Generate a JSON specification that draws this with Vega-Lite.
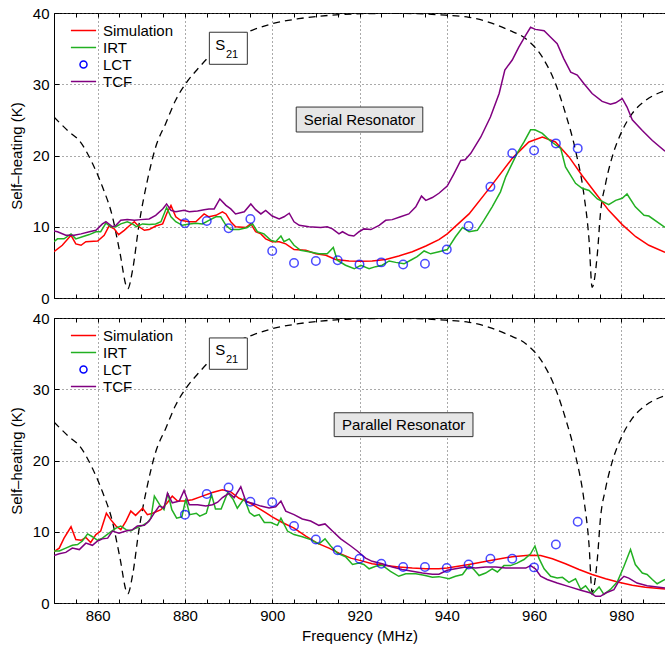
{
  "$schema": "https://vega.github.io/schema/vega-lite/v6.json",
  "padding": {"left": 8, "top": 5, "right": 0, "bottom": 0},
  "config": {
    "font": "Liberation Sans",
    "view": {"stroke": "black", "strokeWidth": 1},
    "axis": {"labelFont": "Liberation Sans", "titleFont": "Liberation Sans", "labelColor": "black", "titleColor": "black", "labelFontSize": 15, "titleFontSize": 15, "titleFontWeight": "normal", "tickColor": "black", "gridColor": "#555555", "gridDash": [1, 3], "gridOpacity": 1, "gridWidth": 1}
  },
  "datasets": {
    "one": [{}],
    "s21": [
      {"f":850,"v":25.4},{"f":853.5,"v":23.3},{"f":855.8,"v":22.1},{"f":858.8,"v":18.9},{"f":861.1,"v":15.6},{"f":863.4,"v":11.4},{"f":865,"v":6.7},{"f":866.9,"v":1.3},{"f":868,"v":3.9},{"f":869.5,"v":10.4},{"f":871.4,"v":16.5},{"f":873.3,"v":21.2},{"f":875.6,"v":24.5},{"f":877.9,"v":27.8},{"f":880.2,"v":30.1},{"f":883.3,"v":32.4},{"f":887.8,"v":35.2},{"f":895.5,"v":37.6},{"f":900,"v":38.5},{"f":906.1,"v":39.2},{"f":913.8,"v":39.7},{"f":920.7,"v":39.9},{"f":928.3,"v":39.95},{"f":939.7,"v":39.7},{"f":945.1,"v":39.4},{"f":949.7,"v":38.7},{"f":954.2,"v":37.6},{"f":958.1,"v":36.4},{"f":961.9,"v":33.8},{"f":964.9,"v":30.1},{"f":967.2,"v":25.9},{"f":969.5,"v":20.7},{"f":971.4,"v":14.6},{"f":972.6,"v":8.1},{"f":973.3,"v":1.5},{"f":974.5,"v":6.2},{"f":975.2,"v":11.8},{"f":976.4,"v":16.1},{"f":977.9,"v":19.8},{"f":980.2,"v":23.5},{"f":982.5,"v":25.9},{"f":985.5,"v":27.7},{"f":990,"v":29.1}
    ],
    "lct": [
      {"p":"S","s":"LCT","f":880,"v":10.5},{"p":"S","s":"LCT","f":885,"v":10.8},{"p":"S","s":"LCT","f":890,"v":9.8},{"p":"S","s":"LCT","f":895,"v":11.1},{"p":"S","s":"LCT","f":900,"v":6.6},{"p":"S","s":"LCT","f":905,"v":4.9},{"p":"S","s":"LCT","f":910,"v":5.2},{"p":"S","s":"LCT","f":915,"v":5.3},{"p":"S","s":"LCT","f":920,"v":4.7},{"p":"S","s":"LCT","f":925,"v":5.0},{"p":"S","s":"LCT","f":930,"v":4.7},{"p":"S","s":"LCT","f":935,"v":4.8},{"p":"S","s":"LCT","f":940,"v":6.8},{"p":"S","s":"LCT","f":945,"v":10.1},{"p":"S","s":"LCT","f":950,"v":15.6},{"p":"S","s":"LCT","f":955,"v":20.3},{"p":"S","s":"LCT","f":960,"v":20.7},{"p":"S","s":"LCT","f":965,"v":21.7},{"p":"S","s":"LCT","f":970,"v":21.0},
      {"p":"P","s":"LCT","f":880,"v":12.4},{"p":"P","s":"LCT","f":885,"v":15.3},{"p":"P","s":"LCT","f":890,"v":16.2},{"p":"P","s":"LCT","f":895,"v":14.2},{"p":"P","s":"LCT","f":900,"v":14.15},{"p":"P","s":"LCT","f":905,"v":10.8},{"p":"P","s":"LCT","f":910,"v":8.9},{"p":"P","s":"LCT","f":915,"v":7.4},{"p":"P","s":"LCT","f":920,"v":6.2},{"p":"P","s":"LCT","f":925,"v":5.5},{"p":"P","s":"LCT","f":930,"v":5.06},{"p":"P","s":"LCT","f":935,"v":5.06},{"p":"P","s":"LCT","f":940,"v":4.9},{"p":"P","s":"LCT","f":945,"v":5.4},{"p":"P","s":"LCT","f":950,"v":6.2},{"p":"P","s":"LCT","f":955,"v":6.2},{"p":"P","s":"LCT","f":960,"v":5.0},{"p":"P","s":"LCT","f":965,"v":8.2},{"p":"P","s":"LCT","f":970,"v":11.4}
    ],
    "curves": [
      {"p":"S","s":"Simulation","f":850,"v":6.5},{"p":"S","s":"Simulation","f":851.9,"v":7.4},{"p":"S","s":"Simulation","f":853.9,"v":8.8},{"p":"S","s":"Simulation","f":855,"v":7.6},{"p":"S","s":"Simulation","f":856.2,"v":7.4},{"p":"S","s":"Simulation","f":857.3,"v":7.9},{"p":"S","s":"Simulation","f":860,"v":8.0},{"p":"S","s":"Simulation","f":861.5,"v":8.8},{"p":"S","s":"Simulation","f":862.6,"v":10.1},{"p":"S","s":"Simulation","f":863.8,"v":9.7},{"p":"S","s":"Simulation","f":864.8,"v":8.9},{"p":"S","s":"Simulation","f":866.1,"v":9.5},{"p":"S","s":"Simulation","f":867.2,"v":10.1},{"p":"S","s":"Simulation","f":868.4,"v":10.7},{"p":"S","s":"Simulation","f":869.5,"v":10.0},{"p":"S","s":"Simulation","f":870.7,"v":9.5},{"p":"S","s":"Simulation","f":871.8,"v":9.6},{"p":"S","s":"Simulation","f":873.3,"v":10.1},{"p":"S","s":"Simulation","f":874.9,"v":10.4},{"p":"S","s":"Simulation","f":876,"v":12.1},{"p":"S","s":"Simulation","f":876.8,"v":13.0},{"p":"S","s":"Simulation","f":877.9,"v":11.4},{"p":"S","s":"Simulation","f":879,"v":10.9},{"p":"S","s":"Simulation","f":881,"v":10.7},{"p":"S","s":"Simulation","f":882.5,"v":10.7},{"p":"S","s":"Simulation","f":884.4,"v":11.8},{"p":"S","s":"Simulation","f":885.5,"v":11.4},{"p":"S","s":"Simulation","f":887.1,"v":11.6},{"p":"S","s":"Simulation","f":888.6,"v":12.1},{"p":"S","s":"Simulation","f":889.4,"v":11.8},{"p":"S","s":"Simulation","f":890.5,"v":10.7},{"p":"S","s":"Simulation","f":891.6,"v":10.0},{"p":"S","s":"Simulation","f":894,"v":9.9},{"p":"S","s":"Simulation","f":895.1,"v":10.4},{"p":"S","s":"Simulation","f":896.2,"v":9.3},{"p":"S","s":"Simulation","f":897.4,"v":9.0},{"p":"S","s":"Simulation","f":898.5,"v":8.3},{"p":"S","s":"Simulation","f":900,"v":7.9},{"p":"S","s":"Simulation","f":901.6,"v":7.9},{"p":"S","s":"Simulation","f":903.1,"v":7.6},{"p":"S","s":"Simulation","f":905,"v":6.8},{"p":"S","s":"Simulation","f":907.7,"v":6.7},{"p":"S","s":"Simulation","f":910,"v":6.2},{"p":"S","s":"Simulation","f":912.3,"v":6.0},{"p":"S","s":"Simulation","f":914.5,"v":5.4},{"p":"S","s":"Simulation","f":917.6,"v":5.2},{"p":"S","s":"Simulation","f":920.3,"v":5.15},{"p":"S","s":"Simulation","f":922.9,"v":5.2},{"p":"S","s":"Simulation","f":926,"v":5.4},{"p":"S","s":"Simulation","f":929,"v":5.9},{"p":"S","s":"Simulation","f":932.1,"v":6.5},{"p":"S","s":"Simulation","f":935.2,"v":7.3},{"p":"S","s":"Simulation","f":938.2,"v":8.2},{"p":"S","s":"Simulation","f":940.1,"v":9.0},{"p":"S","s":"Simulation","f":945.1,"v":11.8},{"p":"S","s":"Simulation","f":950,"v":15.6},{"p":"S","s":"Simulation","f":955,"v":19.6},{"p":"S","s":"Simulation","f":958.8,"v":21.9},{"p":"S","s":"Simulation","f":961.9,"v":22.6},{"p":"S","s":"Simulation","f":964.9,"v":21.9},{"p":"S","s":"Simulation","f":968,"v":19.8},{"p":"S","s":"Simulation","f":971,"v":17.2},{"p":"S","s":"Simulation","f":974.1,"v":14.7},{"p":"S","s":"Simulation","f":977.1,"v":12.3},{"p":"S","s":"Simulation","f":980.2,"v":10.3},{"p":"S","s":"Simulation","f":983.3,"v":8.6},{"p":"S","s":"Simulation","f":986.3,"v":7.4},{"p":"S","s":"Simulation","f":990,"v":6.4},
      {"p":"S","s":"IRT","f":850,"v":7.9},{"p":"S","s":"IRT","f":850.8,"v":8.3},{"p":"S","s":"IRT","f":852.3,"v":8.3},{"p":"S","s":"IRT","f":853.9,"v":9.0},{"p":"S","s":"IRT","f":855,"v":8.3},{"p":"S","s":"IRT","f":856.5,"v":8.6},{"p":"S","s":"IRT","f":858.1,"v":8.9},{"p":"S","s":"IRT","f":859.6,"v":9.3},{"p":"S","s":"IRT","f":860.7,"v":9.3},{"p":"S","s":"IRT","f":861.9,"v":10.5},{"p":"S","s":"IRT","f":863,"v":10.0},{"p":"S","s":"IRT","f":864.2,"v":10.0},{"p":"S","s":"IRT","f":865.3,"v":10.4},{"p":"S","s":"IRT","f":866.8,"v":10.7},{"p":"S","s":"IRT","f":868,"v":10.4},{"p":"S","s":"IRT","f":868.9,"v":10.0},{"p":"S","s":"IRT","f":870.3,"v":10.4},{"p":"S","s":"IRT","f":871.8,"v":10.3},{"p":"S","s":"IRT","f":873.3,"v":10.4},{"p":"S","s":"IRT","f":874.5,"v":10.7},{"p":"S","s":"IRT","f":875.8,"v":12.7},{"p":"S","s":"IRT","f":876.8,"v":11.4},{"p":"S","s":"IRT","f":877.9,"v":10.7},{"p":"S","s":"IRT","f":879.4,"v":10.2},{"p":"S","s":"IRT","f":881,"v":10.4},{"p":"S","s":"IRT","f":882.5,"v":10.5},{"p":"S","s":"IRT","f":884,"v":10.4},{"p":"S","s":"IRT","f":885.5,"v":10.9},{"p":"S","s":"IRT","f":887.1,"v":11.4},{"p":"S","s":"IRT","f":888.2,"v":11.4},{"p":"S","s":"IRT","f":889.4,"v":10.2},{"p":"S","s":"IRT","f":890.5,"v":9.6},{"p":"S","s":"IRT","f":892.4,"v":9.6},{"p":"S","s":"IRT","f":894.3,"v":9.9},{"p":"S","s":"IRT","f":895.5,"v":10.4},{"p":"S","s":"IRT","f":896.6,"v":9.3},{"p":"S","s":"IRT","f":898.1,"v":9.0},{"p":"S","s":"IRT","f":899.7,"v":8.1},{"p":"S","s":"IRT","f":900.8,"v":7.9},{"p":"S","s":"IRT","f":902,"v":8.7},{"p":"S","s":"IRT","f":902.7,"v":7.9},{"p":"S","s":"IRT","f":903.9,"v":8.3},{"p":"S","s":"IRT","f":905,"v":7.4},{"p":"S","s":"IRT","f":906.5,"v":6.7},{"p":"S","s":"IRT","f":908.4,"v":6.5},{"p":"S","s":"IRT","f":910.7,"v":6.2},{"p":"S","s":"IRT","f":912.6,"v":6.2},{"p":"S","s":"IRT","f":914,"v":7.1},{"p":"S","s":"IRT","f":914.9,"v":5.3},{"p":"S","s":"IRT","f":916.8,"v":4.6},{"p":"S","s":"IRT","f":918.8,"v":4.1},{"p":"S","s":"IRT","f":920.3,"v":4.6},{"p":"S","s":"IRT","f":922.2,"v":4.1},{"p":"S","s":"IRT","f":923.7,"v":4.4},{"p":"S","s":"IRT","f":925.2,"v":4.6},{"p":"S","s":"IRT","f":926.8,"v":5.2},{"p":"S","s":"IRT","f":928.3,"v":5.0},{"p":"S","s":"IRT","f":930.2,"v":4.8},{"p":"S","s":"IRT","f":931.7,"v":5.3},{"p":"S","s":"IRT","f":933.2,"v":5.8},{"p":"S","s":"IRT","f":934.8,"v":6.6},{"p":"S","s":"IRT","f":936.3,"v":6.2},{"p":"S","s":"IRT","f":938.2,"v":6.5},{"p":"S","s":"IRT","f":940.1,"v":6.8},{"p":"S","s":"IRT","f":942,"v":8.6},{"p":"S","s":"IRT","f":943.6,"v":9.9},{"p":"S","s":"IRT","f":945.1,"v":9.3},{"p":"S","s":"IRT","f":947,"v":9.5},{"p":"S","s":"IRT","f":948.5,"v":10.9},{"p":"S","s":"IRT","f":950.4,"v":12.8},{"p":"S","s":"IRT","f":952.3,"v":14.9},{"p":"S","s":"IRT","f":953.5,"v":17.0},{"p":"S","s":"IRT","f":954.6,"v":18.4},{"p":"S","s":"IRT","f":956.1,"v":20.3},{"p":"S","s":"IRT","f":957.7,"v":21.9},{"p":"S","s":"IRT","f":959.2,"v":23.6},{"p":"S","s":"IRT","f":960.2,"v":23.6},{"p":"S","s":"IRT","f":961.9,"v":23.1},{"p":"S","s":"IRT","f":963.8,"v":22.0},{"p":"S","s":"IRT","f":966.1,"v":21.0},{"p":"S","s":"IRT","f":967.2,"v":18.4},{"p":"S","s":"IRT","f":969.5,"v":16.1},{"p":"S","s":"IRT","f":971,"v":15.4},{"p":"S","s":"IRT","f":972.6,"v":15.1},{"p":"S","s":"IRT","f":974.5,"v":13.9},{"p":"S","s":"IRT","f":977.1,"v":13.1},{"p":"S","s":"IRT","f":978.7,"v":13.7},{"p":"S","s":"IRT","f":980.2,"v":14.0},{"p":"S","s":"IRT","f":981.3,"v":14.6},{"p":"S","s":"IRT","f":983.2,"v":12.8},{"p":"S","s":"IRT","f":985.2,"v":11.6},{"p":"S","s":"IRT","f":986.3,"v":11.5},{"p":"S","s":"IRT","f":990,"v":9.9},
      {"p":"S","s":"TCF","f":850,"v":9.4},{"p":"S","s":"TCF","f":850.8,"v":9.3},{"p":"S","s":"TCF","f":852.7,"v":8.8},{"p":"S","s":"TCF","f":854.6,"v":8.8},{"p":"S","s":"TCF","f":856.2,"v":9.0},{"p":"S","s":"TCF","f":858.1,"v":9.3},{"p":"S","s":"TCF","f":859.6,"v":9.5},{"p":"S","s":"TCF","f":861.1,"v":10.4},{"p":"S","s":"TCF","f":861.9,"v":10.7},{"p":"S","s":"TCF","f":863.4,"v":10.0},{"p":"S","s":"TCF","f":864.2,"v":10.2},{"p":"S","s":"TCF","f":865.3,"v":10.9},{"p":"S","s":"TCF","f":866.8,"v":11.0},{"p":"S","s":"TCF","f":868.4,"v":10.9},{"p":"S","s":"TCF","f":869.9,"v":11.0},{"p":"S","s":"TCF","f":871.8,"v":11.1},{"p":"S","s":"TCF","f":873.3,"v":11.6},{"p":"S","s":"TCF","f":874.9,"v":12.5},{"p":"S","s":"TCF","f":875.8,"v":13.2},{"p":"S","s":"TCF","f":876.8,"v":12.3},{"p":"S","s":"TCF","f":877.9,"v":12.1},{"p":"S","s":"TCF","f":879.8,"v":12.3},{"p":"S","s":"TCF","f":881,"v":12.1},{"p":"S","s":"TCF","f":882.9,"v":12.2},{"p":"S","s":"TCF","f":884.4,"v":12.4},{"p":"S","s":"TCF","f":885.5,"v":12.5},{"p":"S","s":"TCF","f":886.7,"v":12.5},{"p":"S","s":"TCF","f":888,"v":13.9},{"p":"S","s":"TCF","f":889.4,"v":13.0},{"p":"S","s":"TCF","f":890.5,"v":12.5},{"p":"S","s":"TCF","f":891.6,"v":11.8},{"p":"S","s":"TCF","f":893.6,"v":12.1},{"p":"S","s":"TCF","f":895.1,"v":13.2},{"p":"S","s":"TCF","f":896.2,"v":12.4},{"p":"S","s":"TCF","f":897.4,"v":11.8},{"p":"S","s":"TCF","f":898.5,"v":12.3},{"p":"S","s":"TCF","f":900,"v":11.5},{"p":"S","s":"TCF","f":901.6,"v":11.1},{"p":"S","s":"TCF","f":902.7,"v":11.4},{"p":"S","s":"TCF","f":903.9,"v":11.9},{"p":"S","s":"TCF","f":905,"v":10.7},{"p":"S","s":"TCF","f":906.2,"v":10.2},{"p":"S","s":"TCF","f":908.4,"v":10.0},{"p":"S","s":"TCF","f":911.1,"v":9.9},{"p":"S","s":"TCF","f":912.6,"v":10.0},{"p":"S","s":"TCF","f":913.8,"v":9.7},{"p":"S","s":"TCF","f":915.3,"v":9.0},{"p":"S","s":"TCF","f":916.1,"v":9.3},{"p":"S","s":"TCF","f":917.6,"v":8.8},{"p":"S","s":"TCF","f":918.7,"v":8.7},{"p":"S","s":"TCF","f":919.9,"v":9.3},{"p":"S","s":"TCF","f":921,"v":9.7},{"p":"S","s":"TCF","f":922.6,"v":9.6},{"p":"S","s":"TCF","f":924.5,"v":10.2},{"p":"S","s":"TCF","f":926,"v":10.9},{"p":"S","s":"TCF","f":927.5,"v":11.0},{"p":"S","s":"TCF","f":929.4,"v":11.4},{"p":"S","s":"TCF","f":931.3,"v":11.8},{"p":"S","s":"TCF","f":932.9,"v":12.8},{"p":"S","s":"TCF","f":934.2,"v":14.3},{"p":"S","s":"TCF","f":935.2,"v":13.7},{"p":"S","s":"TCF","f":936.7,"v":14.1},{"p":"S","s":"TCF","f":938.2,"v":14.7},{"p":"S","s":"TCF","f":940.1,"v":15.7},{"p":"S","s":"TCF","f":941.6,"v":17.4},{"p":"S","s":"TCF","f":943.2,"v":19.3},{"p":"S","s":"TCF","f":944.2,"v":19.4},{"p":"S","s":"TCF","f":945.5,"v":20.3},{"p":"S","s":"TCF","f":947.8,"v":22.6},{"p":"S","s":"TCF","f":950,"v":25.4},{"p":"S","s":"TCF","f":952,"v":28.7},{"p":"S","s":"TCF","f":953.3,"v":32.0},{"p":"S","s":"TCF","f":955,"v":33.4},{"p":"S","s":"TCF","f":956.5,"v":35.2},{"p":"S","s":"TCF","f":958.1,"v":36.9},{"p":"S","s":"TCF","f":959.2,"v":38.0},{"p":"S","s":"TCF","f":960.3,"v":37.7},{"p":"S","s":"TCF","f":962.3,"v":37.5},{"p":"S","s":"TCF","f":963.8,"v":36.6},{"p":"S","s":"TCF","f":965.3,"v":35.7},{"p":"S","s":"TCF","f":966.8,"v":33.6},{"p":"S","s":"TCF","f":968.4,"v":31.7},{"p":"S","s":"TCF","f":969.9,"v":31.3},{"p":"S","s":"TCF","f":971.4,"v":30.1},{"p":"S","s":"TCF","f":973.3,"v":28.7},{"p":"S","s":"TCF","f":975.6,"v":27.6},{"p":"S","s":"TCF","f":977.5,"v":27.2},{"p":"S","s":"TCF","f":978.7,"v":27.4},{"p":"S","s":"TCF","f":980.2,"v":28.0},{"p":"S","s":"TCF","f":981.3,"v":26.8},{"p":"S","s":"TCF","f":982.5,"v":25.0},{"p":"S","s":"TCF","f":984.8,"v":23.5},{"p":"S","s":"TCF","f":987.1,"v":22.1},{"p":"S","s":"TCF","f":990,"v":20.6},
      {"p":"P","s":"Simulation","f":850,"v":7.2},{"p":"P","s":"Simulation","f":851.2,"v":7.7},{"p":"P","s":"Simulation","f":852.3,"v":9.1},{"p":"P","s":"Simulation","f":853.9,"v":10.7},{"p":"P","s":"Simulation","f":855,"v":8.9},{"p":"P","s":"Simulation","f":856.2,"v":8.8},{"p":"P","s":"Simulation","f":857.3,"v":9.2},{"p":"P","s":"Simulation","f":858.4,"v":8.5},{"p":"P","s":"Simulation","f":859.6,"v":9.6},{"p":"P","s":"Simulation","f":860.7,"v":10.1},{"p":"P","s":"Simulation","f":862,"v":12.6},{"p":"P","s":"Simulation","f":863,"v":11.7},{"p":"P","s":"Simulation","f":864.2,"v":10.8},{"p":"P","s":"Simulation","f":865.3,"v":10.3},{"p":"P","s":"Simulation","f":866.5,"v":11.5},{"p":"P","s":"Simulation","f":867.6,"v":12.9},{"p":"P","s":"Simulation","f":868.7,"v":12.3},{"p":"P","s":"Simulation","f":870.3,"v":13.3},{"p":"P","s":"Simulation","f":871.4,"v":12.4},{"p":"P","s":"Simulation","f":872.6,"v":12.6},{"p":"P","s":"Simulation","f":874.5,"v":13.1},{"p":"P","s":"Simulation","f":876,"v":14.1},{"p":"P","s":"Simulation","f":877.1,"v":15.0},{"p":"P","s":"Simulation","f":878.3,"v":14.3},{"p":"P","s":"Simulation","f":879.8,"v":14.3},{"p":"P","s":"Simulation","f":881.7,"v":14.5},{"p":"P","s":"Simulation","f":884,"v":15.0},{"p":"P","s":"Simulation","f":886.3,"v":15.5},{"p":"P","s":"Simulation","f":888.6,"v":15.9},{"p":"P","s":"Simulation","f":890.5,"v":15.6},{"p":"P","s":"Simulation","f":892.4,"v":14.7},{"p":"P","s":"Simulation","f":894.7,"v":14.1},{"p":"P","s":"Simulation","f":896.6,"v":13.4},{"p":"P","s":"Simulation","f":898.5,"v":12.7},{"p":"P","s":"Simulation","f":900,"v":12.1},{"p":"P","s":"Simulation","f":902.3,"v":11.3},{"p":"P","s":"Simulation","f":905,"v":10.5},{"p":"P","s":"Simulation","f":907.7,"v":9.4},{"p":"P","s":"Simulation","f":910.3,"v":8.4},{"p":"P","s":"Simulation","f":913,"v":7.7},{"p":"P","s":"Simulation","f":915.3,"v":7.0},{"p":"P","s":"Simulation","f":918,"v":6.3},{"p":"P","s":"Simulation","f":920.3,"v":5.95},{"p":"P","s":"Simulation","f":922.9,"v":5.5},{"p":"P","s":"Simulation","f":926,"v":5.25},{"p":"P","s":"Simulation","f":929,"v":5.06},{"p":"P","s":"Simulation","f":932.1,"v":4.9},{"p":"P","s":"Simulation","f":935.2,"v":4.8},{"p":"P","s":"Simulation","f":938.2,"v":4.8},{"p":"P","s":"Simulation","f":940.1,"v":4.9},{"p":"P","s":"Simulation","f":945.1,"v":5.4},{"p":"P","s":"Simulation","f":950,"v":5.95},{"p":"P","s":"Simulation","f":955,"v":6.5},{"p":"P","s":"Simulation","f":958.8,"v":6.7},{"p":"P","s":"Simulation","f":961.5,"v":6.65},{"p":"P","s":"Simulation","f":964.2,"v":6.2},{"p":"P","s":"Simulation","f":967.2,"v":5.5},{"p":"P","s":"Simulation","f":970.3,"v":4.7},{"p":"P","s":"Simulation","f":973.3,"v":4.0},{"p":"P","s":"Simulation","f":976.4,"v":3.4},{"p":"P","s":"Simulation","f":979.4,"v":2.9},{"p":"P","s":"Simulation","f":982.5,"v":2.5},{"p":"P","s":"Simulation","f":985.5,"v":2.2},{"p":"P","s":"Simulation","f":990,"v":1.95},
      {"p":"P","s":"IRT","f":850,"v":7.3},{"p":"P","s":"IRT","f":851.2,"v":7.3},{"p":"P","s":"IRT","f":852.7,"v":7.7},{"p":"P","s":"IRT","f":854.2,"v":8.1},{"p":"P","s":"IRT","f":855.4,"v":8.2},{"p":"P","s":"IRT","f":856.5,"v":8.7},{"p":"P","s":"IRT","f":857.7,"v":9.7},{"p":"P","s":"IRT","f":858.8,"v":9.3},{"p":"P","s":"IRT","f":860,"v":8.8},{"p":"P","s":"IRT","f":861.1,"v":9.1},{"p":"P","s":"IRT","f":862.6,"v":9.8},{"p":"P","s":"IRT","f":864.2,"v":10.5},{"p":"P","s":"IRT","f":865.3,"v":10.8},{"p":"P","s":"IRT","f":866.5,"v":10.3},{"p":"P","s":"IRT","f":867.6,"v":10.1},{"p":"P","s":"IRT","f":868.7,"v":10.5},{"p":"P","s":"IRT","f":870.3,"v":10.9},{"p":"P","s":"IRT","f":871.4,"v":11.3},{"p":"P","s":"IRT","f":872.2,"v":11.9},{"p":"P","s":"IRT","f":873,"v":15.0},{"p":"P","s":"IRT","f":874.2,"v":13.8},{"p":"P","s":"IRT","f":875.2,"v":13.1},{"p":"P","s":"IRT","f":876.1,"v":15.4},{"p":"P","s":"IRT","f":877,"v":13.1},{"p":"P","s":"IRT","f":878.1,"v":11.9},{"p":"P","s":"IRT","f":879.3,"v":12.1},{"p":"P","s":"IRT","f":880.2,"v":14.6},{"p":"P","s":"IRT","f":881.1,"v":12.4},{"p":"P","s":"IRT","f":882.6,"v":12.6},{"p":"P","s":"IRT","f":883.4,"v":12.2},{"p":"P","s":"IRT","f":884.9,"v":12.6},{"p":"P","s":"IRT","f":886.1,"v":15.2},{"p":"P","s":"IRT","f":887,"v":13.2},{"p":"P","s":"IRT","f":888.3,"v":13.2},{"p":"P","s":"IRT","f":889.8,"v":15.5},{"p":"P","s":"IRT","f":891,"v":14.6},{"p":"P","s":"IRT","f":892,"v":13.3},{"p":"P","s":"IRT","f":893.6,"v":14.7},{"p":"P","s":"IRT","f":894.8,"v":12.7},{"p":"P","s":"IRT","f":895.9,"v":12.2},{"p":"P","s":"IRT","f":897,"v":12.4},{"p":"P","s":"IRT","f":898.2,"v":11.3},{"p":"P","s":"IRT","f":899.7,"v":11.3},{"p":"P","s":"IRT","f":901.2,"v":10.9},{"p":"P","s":"IRT","f":902,"v":11.9},{"p":"P","s":"IRT","f":903.5,"v":10.1},{"p":"P","s":"IRT","f":905,"v":9.6},{"p":"P","s":"IRT","f":906.9,"v":9.3},{"p":"P","s":"IRT","f":908.8,"v":8.9},{"p":"P","s":"IRT","f":910.7,"v":8.3},{"p":"P","s":"IRT","f":912.1,"v":9.0},{"p":"P","s":"IRT","f":913.4,"v":8.0},{"p":"P","s":"IRT","f":914.9,"v":7.0},{"p":"P","s":"IRT","f":916.8,"v":6.5},{"p":"P","s":"IRT","f":918.4,"v":5.4},{"p":"P","s":"IRT","f":919.9,"v":5.6},{"p":"P","s":"IRT","f":921,"v":5.4},{"p":"P","s":"IRT","f":922.2,"v":4.8},{"p":"P","s":"IRT","f":923.7,"v":5.15},{"p":"P","s":"IRT","f":925.2,"v":5.3},{"p":"P","s":"IRT","f":927.1,"v":4.45},{"p":"P","s":"IRT","f":929,"v":3.75},{"p":"P","s":"IRT","f":930.6,"v":4.1},{"p":"P","s":"IRT","f":932.9,"v":4.1},{"p":"P","s":"IRT","f":934.8,"v":3.9},{"p":"P","s":"IRT","f":936.7,"v":3.6},{"p":"P","s":"IRT","f":938.2,"v":3.7},{"p":"P","s":"IRT","f":940.5,"v":3.4},{"p":"P","s":"IRT","f":942,"v":3.75},{"p":"P","s":"IRT","f":943.6,"v":4.0},{"p":"P","s":"IRT","f":945.1,"v":5.25},{"p":"P","s":"IRT","f":946.2,"v":4.7},{"p":"P","s":"IRT","f":947.4,"v":3.85},{"p":"P","s":"IRT","f":948.9,"v":4.2},{"p":"P","s":"IRT","f":950.4,"v":4.8},{"p":"P","s":"IRT","f":951.6,"v":4.35},{"p":"P","s":"IRT","f":953.1,"v":5.25},{"p":"P","s":"IRT","f":954.6,"v":5.25},{"p":"P","s":"IRT","f":956.1,"v":5.6},{"p":"P","s":"IRT","f":957.7,"v":6.1},{"p":"P","s":"IRT","f":959.2,"v":6.9},{"p":"P","s":"IRT","f":960.2,"v":8.0},{"p":"P","s":"IRT","f":961.1,"v":6.3},{"p":"P","s":"IRT","f":962.3,"v":4.8},{"p":"P","s":"IRT","f":963.8,"v":3.75},{"p":"P","s":"IRT","f":965.3,"v":3.5},{"p":"P","s":"IRT","f":966.5,"v":3.6},{"p":"P","s":"IRT","f":968,"v":2.9},{"p":"P","s":"IRT","f":969.5,"v":3.4},{"p":"P","s":"IRT","f":970.7,"v":1.9},{"p":"P","s":"IRT","f":971.8,"v":2.4},{"p":"P","s":"IRT","f":973.3,"v":1.2},{"p":"P","s":"IRT","f":974.9,"v":2.25},{"p":"P","s":"IRT","f":976,"v":1.2},{"p":"P","s":"IRT","f":977.5,"v":1.9},{"p":"P","s":"IRT","f":979.1,"v":3.0},{"p":"P","s":"IRT","f":980.6,"v":5.15},{"p":"P","s":"IRT","f":982.1,"v":7.5},{"p":"P","s":"IRT","f":983.2,"v":5.4},{"p":"P","s":"IRT","f":984.8,"v":4.2},{"p":"P","s":"IRT","f":985.9,"v":4.0},{"p":"P","s":"IRT","f":987.1,"v":3.3},{"p":"P","s":"IRT","f":988.2,"v":2.7},{"p":"P","s":"IRT","f":990,"v":3.3},
      {"p":"P","s":"TCF","f":850,"v":6.65},{"p":"P","s":"TCF","f":851.2,"v":6.9},{"p":"P","s":"TCF","f":852.7,"v":7.1},{"p":"P","s":"TCF","f":854.2,"v":7.7},{"p":"P","s":"TCF","f":855.8,"v":7.5},{"p":"P","s":"TCF","f":857.3,"v":8.4},{"p":"P","s":"TCF","f":858.8,"v":8.1},{"p":"P","s":"TCF","f":860,"v":8.7},{"p":"P","s":"TCF","f":861.1,"v":9.0},{"p":"P","s":"TCF","f":862.3,"v":9.1},{"p":"P","s":"TCF","f":863.4,"v":10.1},{"p":"P","s":"TCF","f":864.9,"v":9.8},{"p":"P","s":"TCF","f":866.5,"v":10.1},{"p":"P","s":"TCF","f":868,"v":10.3},{"p":"P","s":"TCF","f":869.1,"v":10.8},{"p":"P","s":"TCF","f":870.7,"v":10.9},{"p":"P","s":"TCF","f":871.8,"v":11.5},{"p":"P","s":"TCF","f":873,"v":12.65},{"p":"P","s":"TCF","f":874.1,"v":13.6},{"p":"P","s":"TCF","f":875.2,"v":13.35},{"p":"P","s":"TCF","f":876,"v":15.4},{"p":"P","s":"TCF","f":877.1,"v":14.06},{"p":"P","s":"TCF","f":878.7,"v":14.3},{"p":"P","s":"TCF","f":879.8,"v":15.8},{"p":"P","s":"TCF","f":881,"v":13.8},{"p":"P","s":"TCF","f":882.9,"v":13.8},{"p":"P","s":"TCF","f":884.8,"v":13.6},{"p":"P","s":"TCF","f":886.3,"v":13.8},{"p":"P","s":"TCF","f":887.5,"v":14.15},{"p":"P","s":"TCF","f":888.6,"v":14.8},{"p":"P","s":"TCF","f":890.1,"v":15.4},{"p":"P","s":"TCF","f":891.3,"v":14.8},{"p":"P","s":"TCF","f":892.8,"v":16.3},{"p":"P","s":"TCF","f":894,"v":14.2},{"p":"P","s":"TCF","f":895.5,"v":14.0},{"p":"P","s":"TCF","f":897.4,"v":13.6},{"p":"P","s":"TCF","f":899.3,"v":13.35},{"p":"P","s":"TCF","f":900.8,"v":13.5},{"p":"P","s":"TCF","f":902,"v":14.3},{"p":"P","s":"TCF","f":903.1,"v":12.9},{"p":"P","s":"TCF","f":905,"v":12.4},{"p":"P","s":"TCF","f":906.9,"v":11.8},{"p":"P","s":"TCF","f":908.8,"v":11.5},{"p":"P","s":"TCF","f":910.7,"v":10.9},{"p":"P","s":"TCF","f":912.1,"v":11.1},{"p":"P","s":"TCF","f":913.8,"v":10.1},{"p":"P","s":"TCF","f":915.7,"v":9.0},{"p":"P","s":"TCF","f":918,"v":8.0},{"p":"P","s":"TCF","f":919.5,"v":7.3},{"p":"P","s":"TCF","f":921.4,"v":6.3},{"p":"P","s":"TCF","f":922.9,"v":5.85},{"p":"P","s":"TCF","f":925.2,"v":5.5},{"p":"P","s":"TCF","f":927.5,"v":5.06},{"p":"P","s":"TCF","f":929.8,"v":4.7},{"p":"P","s":"TCF","f":932.1,"v":4.45},{"p":"P","s":"TCF","f":934.4,"v":4.2},{"p":"P","s":"TCF","f":936.7,"v":4.05},{"p":"P","s":"TCF","f":938.2,"v":4.05},{"p":"P","s":"TCF","f":940.1,"v":4.6},{"p":"P","s":"TCF","f":942,"v":4.8},{"p":"P","s":"TCF","f":944.3,"v":5.06},{"p":"P","s":"TCF","f":946.6,"v":4.9},{"p":"P","s":"TCF","f":948.9,"v":5.06},{"p":"P","s":"TCF","f":951.2,"v":5.06},{"p":"P","s":"TCF","f":953.5,"v":4.9},{"p":"P","s":"TCF","f":955.8,"v":4.9},{"p":"P","s":"TCF","f":958.1,"v":4.9},{"p":"P","s":"TCF","f":959.2,"v":5.25},{"p":"P","s":"TCF","f":960.3,"v":4.8},{"p":"P","s":"TCF","f":961.5,"v":3.75},{"p":"P","s":"TCF","f":963,"v":3.3},{"p":"P","s":"TCF","f":965.3,"v":2.8},{"p":"P","s":"TCF","f":968,"v":2.3},{"p":"P","s":"TCF","f":970.7,"v":1.8},{"p":"P","s":"TCF","f":973,"v":1.4},{"p":"P","s":"TCF","f":974.1,"v":0.93},{"p":"P","s":"TCF","f":975.2,"v":0.93},{"p":"P","s":"TCF","f":976.4,"v":1.4},{"p":"P","s":"TCF","f":978.3,"v":1.87},{"p":"P","s":"TCF","f":979.4,"v":3.04},{"p":"P","s":"TCF","f":980.6,"v":3.75},{"p":"P","s":"TCF","f":981.7,"v":3.5},{"p":"P","s":"TCF","f":983.6,"v":2.8},{"p":"P","s":"TCF","f":985.9,"v":2.43},{"p":"P","s":"TCF","f":990,"v":2.1}
    ]
  },
  "spacing": 3,
  "resolve": {"scale": {"x": "independent", "y": "independent", "color": "independent", "shape": "independent"}, "legend": {"color": "independent", "shape": "independent"}},
  "vconcat": [
    {
      "width": 611, "height": 285,
      "resolve": {"axis": {"x": "independent", "y": "independent"}},
      "layer": [
        {"data": {"name": "s21"}, "mark": {"type": "line", "stroke": "black", "strokeDash": [7, 5], "strokeWidth": 1.3, "interpolate": "monotone", "clip": true},
         "encoding": {
           "x": {"field": "f", "type": "quantitative", "scale": {"domain": [850, 990], "nice": false, "zero": false}, "axis": {"orient": "bottom", "values": [860, 880, 900, 920, 940, 960, 980], "grid": true, "ticks": false, "domain": false, "labels": false, "title": null}},
           "y": {"field": "v", "type": "quantitative", "scale": {"domain": [0, 40], "nice": false}, "axis": {"orient": "left", "values": [0, 10, 20, 30, 40], "grid": true, "ticks": false, "domain": false, "labelPadding": 5, "title": "Self–heating (K)", "titlePadding": 8}}
         }},
        {"data": {"name": "curves"}, "transform": [{"filter": "datum.p == 'S'"}], "mark": {"type": "line", "strokeWidth": 1.5, "clip": true},
         "encoding": {
           "x": {"field": "f", "type": "quantitative", "axis": {"orient": "bottom", "values": [850,855,860,865,870,875,880,885,890,895,900,905,910,915,920,925,930,935,940,945,950,955,960,965,970,975,980,985,990], "grid": false, "ticks": true, "tickSize": -4, "domain": false, "labels": false, "title": null}},
           "y": {"field": "v", "type": "quantitative", "axis": {"orient": "left", "values": [0, 10, 20, 30, 40], "grid": false, "ticks": true, "tickSize": -5, "domain": false, "labels": false, "title": null}},
           "color": {"field": "s", "type": "nominal", "scale": {"domain": ["Simulation", "IRT", "LCT", "TCF"], "range": ["#ff0000", "#22b022", "#0000ff", "#800080"]},
             "legend": {"orient": "none", "legendX": 22, "legendY": 10, "title": null, "padding": 0, "labelFontSize": 15, "labelFont": "Liberation Sans", "labelColor": "black", "symbolSize": 49, "symbolStrokeWidth": 1.5, "labelOffset": 12, "rowPadding": 1, "encode": {"symbols": {"update": {"fill": {"value": "transparent"}}}}}}
         }},
        {"data": {"name": "lct"}, "transform": [{"filter": "datum.p == 'S'"}], "mark": {"type": "point", "filled": false, "size": 72, "strokeWidth": 1.5, "clip": true},
         "encoding": {
           "x": {"field": "f", "type": "quantitative", "axis": {"orient": "top", "values": [850,855,860,865,870,875,880,885,890,895,900,905,910,915,920,925,930,935,940,945,950,955,960,965,970,975,980,985,990], "grid": false, "ticks": true, "tickSize": -4, "domain": false, "labels": false, "title": null}},
           "y": {"field": "v", "type": "quantitative", "axis": null},
           "color": {"field": "s", "type": "nominal", "legend": {"orient": "none", "legendX": 22, "legendY": 10, "title": null, "padding": 0, "labelFontSize": 15, "labelFont": "Liberation Sans", "labelColor": "black", "symbolSize": 49, "symbolStrokeWidth": 1.5, "labelOffset": 12, "rowPadding": 1, "encode": {"symbols": {"update": {"fill": {"value": "transparent"}}}}}},
           "shape": {"field": "s", "type": "nominal", "scale": {"domain": ["Simulation", "IRT", "LCT", "TCF"], "range": ["M-3.6,0H3.6", "M-3.6,0H3.6", "circle", "M-3.6,0H3.6"]}, "legend": {"orient": "none", "legendX": 22, "legendY": 10, "title": null, "padding": 0, "labelFontSize": 15, "labelFont": "Liberation Sans", "labelColor": "black", "symbolSize": 49, "symbolStrokeWidth": 1.5, "labelOffset": 12, "rowPadding": 1, "encode": {"symbols": {"update": {"fill": {"value": "transparent"}}}}}}
         }},
        {"data": {"name": "one"}, "mark": {"type": "rect", "fill": "white", "stroke": "#333333", "strokeWidth": 1},
         "encoding": {"x": {"datum": 885.6, "type": "quantitative", "axis": null}, "x2": {"datum": 894.3}, "y": {"datum": 37.3, "type": "quantitative", "axis": null}, "y2": {"datum": 32.8}}},
        {"data": {"name": "one"}, "mark": {"type": "text", "text": "S", "fontSize": 15, "font": "Liberation Sans", "color": "black", "align": "center", "baseline": "middle"},
         "encoding": {"x": {"datum": 888.1, "type": "quantitative", "axis": null}, "y": {"datum": 35.5, "type": "quantitative", "axis": null}}},
        {"data": {"name": "one"}, "mark": {"type": "text", "text": "21", "fontSize": 11, "font": "Liberation Sans", "color": "black", "align": "center", "baseline": "middle"},
         "encoding": {"x": {"datum": 890.8, "type": "quantitative", "axis": null}, "y": {"datum": 34.1, "type": "quantitative", "axis": null}}},
        {"data": {"name": "one"}, "mark": {"type": "rect", "fill": "#e6e6e6", "stroke": "#333333", "strokeWidth": 1},
         "encoding": {"x": {"datum": 905.5, "type": "quantitative", "axis": null}, "x2": {"datum": 934.5}, "y": {"datum": 26.8, "type": "quantitative", "axis": null}, "y2": {"datum": 23.3}}},
        {"data": {"name": "one"}, "mark": {"type": "text", "text": "Serial Resonator", "fontSize": 15, "font": "Liberation Sans", "color": "black", "align": "center", "baseline": "middle"},
         "encoding": {"x": {"datum": 920, "type": "quantitative", "axis": null}, "y": {"datum": 25.05, "type": "quantitative", "axis": null}}}
      ]
    },
    {
      "width": 611, "height": 285,
      "resolve": {"axis": {"x": "independent", "y": "independent"}},
      "layer": [
        {"data": {"name": "s21"}, "mark": {"type": "line", "stroke": "black", "strokeDash": [7, 5], "strokeWidth": 1.3, "interpolate": "monotone", "clip": true},
         "encoding": {
           "x": {"field": "f", "type": "quantitative", "scale": {"domain": [850, 990], "nice": false, "zero": false}, "axis": {"orient": "bottom", "values": [860, 880, 900, 920, 940, 960, 980], "grid": true, "ticks": false, "domain": false, "labels": true, "labelPadding": 5, "title": "Frequency (MHz)", "titlePadding": 5}},
           "y": {"field": "v", "type": "quantitative", "scale": {"domain": [0, 40], "nice": false}, "axis": {"orient": "left", "values": [0, 10, 20, 30, 40], "grid": true, "ticks": false, "domain": false, "labelPadding": 5, "title": "Self–heating (K)", "titlePadding": 8}}
         }},
        {"data": {"name": "curves"}, "transform": [{"filter": "datum.p == 'P'"}], "mark": {"type": "line", "strokeWidth": 1.5, "clip": true},
         "encoding": {
           "x": {"field": "f", "type": "quantitative", "axis": {"orient": "bottom", "values": [850,855,860,865,870,875,880,885,890,895,900,905,910,915,920,925,930,935,940,945,950,955,960,965,970,975,980,985,990], "grid": false, "ticks": true, "tickSize": -4, "domain": false, "labels": false, "title": null}},
           "y": {"field": "v", "type": "quantitative", "axis": {"orient": "left", "values": [0, 10, 20, 30, 40], "grid": false, "ticks": true, "tickSize": -5, "domain": false, "labels": false, "title": null}},
           "color": {"field": "s", "type": "nominal", "scale": {"domain": ["Simulation", "IRT", "LCT", "TCF"], "range": ["#ff0000", "#22b022", "#0000ff", "#800080"]},
             "legend": {"orient": "none", "legendX": 22, "legendY": 10, "title": null, "padding": 0, "labelFontSize": 15, "labelFont": "Liberation Sans", "labelColor": "black", "symbolSize": 49, "symbolStrokeWidth": 1.5, "labelOffset": 12, "rowPadding": 1, "encode": {"symbols": {"update": {"fill": {"value": "transparent"}}}}}}
         }},
        {"data": {"name": "lct"}, "transform": [{"filter": "datum.p == 'P'"}], "mark": {"type": "point", "filled": false, "size": 72, "strokeWidth": 1.5, "clip": true},
         "encoding": {
           "x": {"field": "f", "type": "quantitative", "axis": {"orient": "top", "values": [850,855,860,865,870,875,880,885,890,895,900,905,910,915,920,925,930,935,940,945,950,955,960,965,970,975,980,985,990], "grid": false, "ticks": true, "tickSize": -4, "domain": false, "labels": false, "title": null}},
           "y": {"field": "v", "type": "quantitative", "axis": null},
           "color": {"field": "s", "type": "nominal", "legend": {"orient": "none", "legendX": 22, "legendY": 10, "title": null, "padding": 0, "labelFontSize": 15, "labelFont": "Liberation Sans", "labelColor": "black", "symbolSize": 49, "symbolStrokeWidth": 1.5, "labelOffset": 12, "rowPadding": 1, "encode": {"symbols": {"update": {"fill": {"value": "transparent"}}}}}},
           "shape": {"field": "s", "type": "nominal", "scale": {"domain": ["Simulation", "IRT", "LCT", "TCF"], "range": ["M-3.6,0H3.6", "M-3.6,0H3.6", "circle", "M-3.6,0H3.6"]}, "legend": {"orient": "none", "legendX": 22, "legendY": 10, "title": null, "padding": 0, "labelFontSize": 15, "labelFont": "Liberation Sans", "labelColor": "black", "symbolSize": 49, "symbolStrokeWidth": 1.5, "labelOffset": 12, "rowPadding": 1, "encode": {"symbols": {"update": {"fill": {"value": "transparent"}}}}}}
         }},
        {"data": {"name": "one"}, "mark": {"type": "rect", "fill": "white", "stroke": "#333333", "strokeWidth": 1},
         "encoding": {"x": {"datum": 885.6, "type": "quantitative", "axis": null}, "x2": {"datum": 894.3}, "y": {"datum": 37.2, "type": "quantitative", "axis": null}, "y2": {"datum": 32.8}}},
        {"data": {"name": "one"}, "mark": {"type": "text", "text": "S", "fontSize": 15, "font": "Liberation Sans", "color": "black", "align": "center", "baseline": "middle"},
         "encoding": {"x": {"datum": 888.1, "type": "quantitative", "axis": null}, "y": {"datum": 35.5, "type": "quantitative", "axis": null}}},
        {"data": {"name": "one"}, "mark": {"type": "text", "text": "21", "fontSize": 11, "font": "Liberation Sans", "color": "black", "align": "center", "baseline": "middle"},
         "encoding": {"x": {"datum": 890.8, "type": "quantitative", "axis": null}, "y": {"datum": 34.1, "type": "quantitative", "axis": null}}},
        {"data": {"name": "one"}, "mark": {"type": "rect", "fill": "#e6e6e6", "stroke": "#333333", "strokeWidth": 1},
         "encoding": {"x": {"datum": 914.2, "type": "quantitative", "axis": null}, "x2": {"datum": 946.0}, "y": {"datum": 26.7, "type": "quantitative", "axis": null}, "y2": {"datum": 23.35}}},
        {"data": {"name": "one"}, "mark": {"type": "text", "text": "Parallel Resonator", "fontSize": 15, "font": "Liberation Sans", "color": "black", "align": "center", "baseline": "middle"},
         "encoding": {"x": {"datum": 930.1, "type": "quantitative", "axis": null}, "y": {"datum": 25.0, "type": "quantitative", "axis": null}}}
      ]
    }
  ]
}
